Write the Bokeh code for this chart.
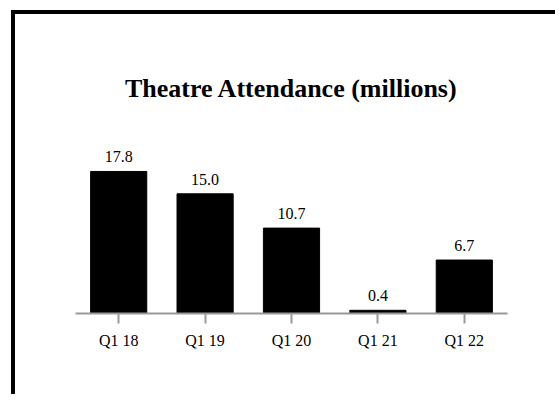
from bokeh.plotting import figure
from bokeh.models import ColumnDataSource, LabelSet, Label, FactorRange, Range1d
from bokeh.core.properties import value
from bokeh.embed import file_html
from bokeh.resources import INLINE

quarters = ["Q1 18", "Q1 19", "Q1 20", "Q1 21", "Q1 22"]
attendance = [17.8, 15.0, 10.7, 0.4, 6.7]
value_labels = ["17.8", "15.0", "10.7", "0.4", "6.7"]
title_text = "Theatre Attendance (millions)"

src = ColumnDataSource(dict(q=quarters, v=attendance, t=value_labels))

p = figure(width=544, height=384,
           x_range=FactorRange(*quarters, range_padding=0),
           y_range=Range1d(0, 37.47),
           output_backend="svg", toolbar_location=None,
           y_axis_location=None,
           min_border_left=60, min_border_right=52,
           min_border_top=0, min_border_bottom=85)

p.styles = {"margin-left": "11px", "margin-top": "10px",
            "border-left": "4px solid black", "border-top": "4px solid black"}

p.vbar(x="q", top="v", width=0.65, source=src, color="black")

labels = LabelSet(x="q", y="v", text="t", source=src, y_offset=9,
                  text_align="center", text_baseline="alphabetic",
                  text_font=value("Liberation Serif"), text_font_size="16px",
                  text_color="black")
p.add_layout(labels)

title = Label(x=2.5, y=28.2, text=title_text, text_align="center",
              text_baseline="middle", text_font="Liberation Serif",
              text_font_size="26px", text_font_style="bold", text_color="black")
p.add_layout(title)

p.xgrid.visible = False
p.ygrid.visible = False
p.outline_line_color = None
p.background_fill_color = "white"
p.border_fill_color = "white"

ax = p.xaxis[0]
ax.axis_line_color = "#999999"
ax.axis_line_width = 2
ax.major_tick_line_color = "#999999"
ax.major_tick_line_width = 2
ax.major_tick_in = 0
ax.major_tick_out = 10
ax.minor_tick_line_color = None
ax.major_label_text_font = "Liberation Serif"
ax.major_label_text_font_size = "16px"
ax.major_label_text_color = "black"
ax.major_label_standoff = 8

open("out.html", "w").write(file_html(p, INLINE))
